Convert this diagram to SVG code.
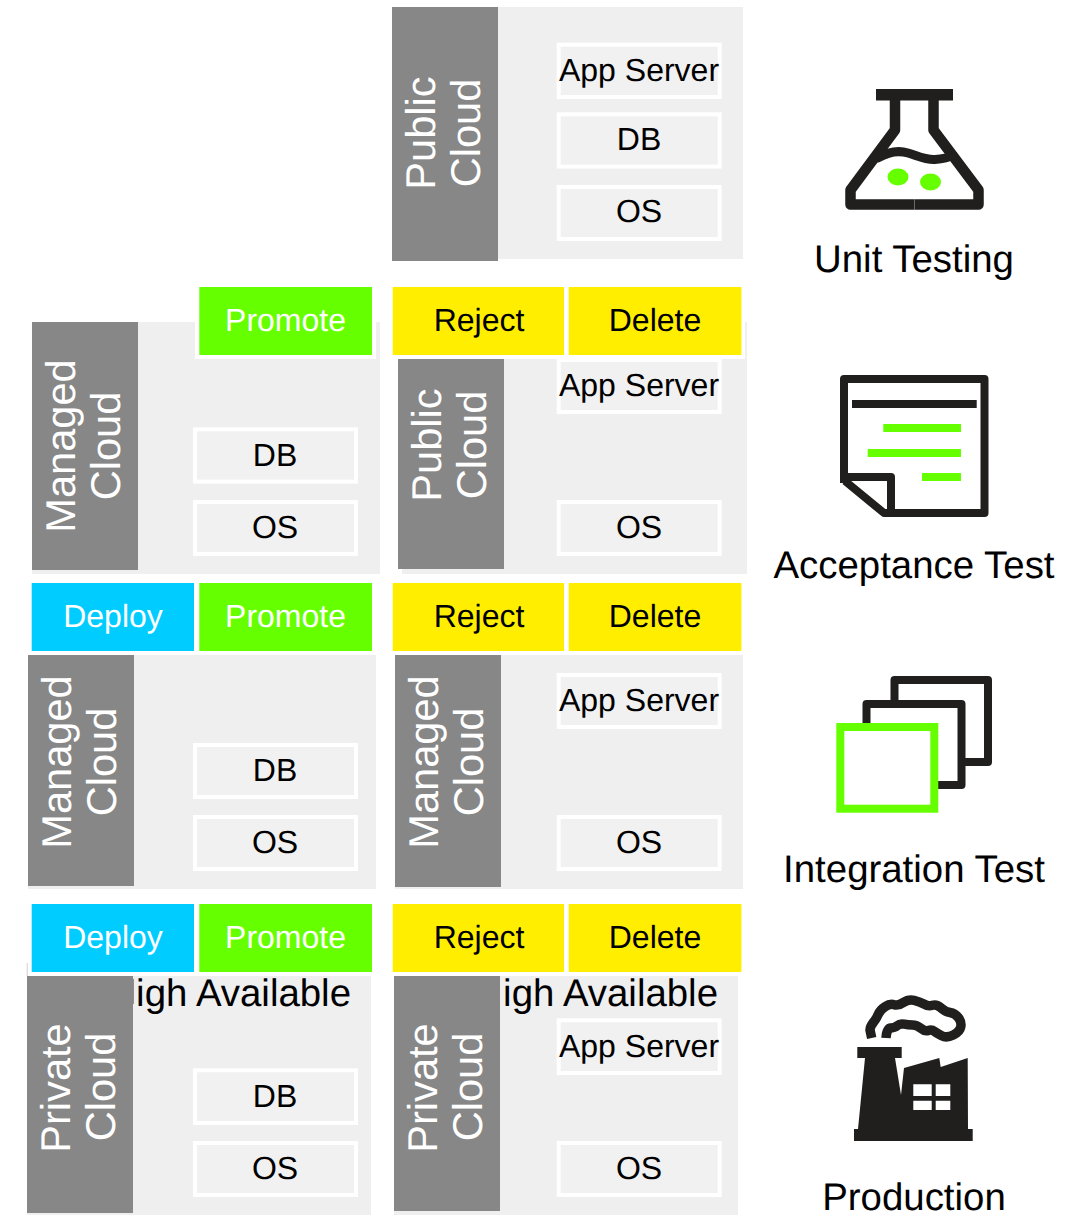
<svg xmlns="http://www.w3.org/2000/svg" width="1092" height="1215" viewBox="0 0 1092 1215">
<style>
text{font-family:"Liberation Sans",Arial,sans-serif;text-anchor:middle;text-rendering:geometricPrecision}
.p{fill:#efefef}.s{fill:#878787}.b{fill:#f1f1f1;stroke:#fff;stroke-width:4}
.t{font-size:32px;fill:#000}.v{font-size:41.6px;fill:#fff}
.m{font-size:32px}.w{fill:#fff}.k{fill:#000}.h{font-size:38.4px}
.y{fill:#ffee00}.g{fill:#66ff00}.c{fill:#00ccff}
.i{fill:none;stroke:#211f1e;stroke-width:8;stroke-linejoin:round}
.d{fill:#211f1e}
</style>
<g id="public-1"><rect class="p" x="392" y="7" width="351" height="252"/><rect class="s" x="392" y="7" width="106" height="254"/>
<text class="v" transform="translate(435.300 133) rotate(-90)">Public</text><text class="v" transform="translate(479.500 133) rotate(-90)">Cloud</text>
<rect class="b" x="558.700" y="44.700" width="161" height="52.300"/><text class="t" x="639" y="81">App Server</text>
<rect class="b" x="558.700" y="114.300" width="161" height="52.300"/><text class="t" x="639" y="150">DB</text>
<rect class="b" x="558.700" y="187" width="161" height="52"/><text class="t" x="639" y="222">OS</text></g>
<g id="managed-accept"><rect class="p" x="32" y="322" width="348" height="252"/><rect class="w" x="195" y="322" width="181" height="37"/><rect class="s" x="32" y="322" width="106" height="248"/>
<text class="v" transform="translate(75.300 446) rotate(-90)">Managed</text><text class="v" transform="translate(119.500 446) rotate(-90)">Cloud</text>
<rect class="b" x="195" y="429.300" width="161" height="52.300"/><text class="t" x="275" y="466">DB</text>
<rect class="b" x="195" y="502" width="161" height="52"/><text class="t" x="275" y="538">OS</text></g>
<g id="public-accept"><rect class="p" x="402" y="322" width="345" height="252"/><rect class="w" x="388" y="322" width="357" height="37"/><rect class="s" x="398" y="359" width="106" height="210"/>
<text class="v" transform="translate(441.300 445) rotate(-90)">Public</text><text class="v" transform="translate(485.500 445) rotate(-90)">Cloud</text>
<rect class="b" x="558.700" y="360" width="161" height="52"/><text class="t" x="639" y="396">App Server</text>
<rect class="b" x="558.700" y="502" width="161" height="52"/><text class="t" x="639" y="538">OS</text></g>
<g id="managed-int-left"><rect class="p" x="28" y="655" width="348" height="234"/><rect class="s" x="28" y="655" width="106" height="231"/>
<text class="v" transform="translate(71.300 762) rotate(-90)">Managed</text><text class="v" transform="translate(115.500 762) rotate(-90)">Cloud</text>
<rect class="b" x="195" y="745" width="161" height="52"/><text class="t" x="275" y="781">DB</text>
<rect class="b" x="195" y="817" width="161" height="52"/><text class="t" x="275" y="853">OS</text></g>
<g id="managed-int-right"><rect class="p" x="395" y="655" width="348" height="234"/><rect class="s" x="395" y="655" width="106" height="232"/>
<text class="v" transform="translate(438.300 762) rotate(-90)">Managed</text><text class="v" transform="translate(482.500 762) rotate(-90)">Cloud</text>
<rect class="b" x="558.700" y="675" width="161" height="52"/><text class="t" x="639" y="711">App Server</text>
<rect class="b" x="558.700" y="817" width="161" height="52"/><text class="t" x="639" y="853">OS</text></g>
<g id="private-left"><rect fill="#cfcfcf" x="26.700" y="963" width="1" height="13"/><rect class="p" x="27" y="976" width="344" height="239"/><rect class="s" x="27" y="976" width="106" height="237"/><rect fill="#777" x="133" y="979" width=".8" height="25"/>
<text class="h k" style="text-anchor:end" x="351" y="1006">igh Available</text>
<text class="v" transform="translate(70 1088) rotate(-90)">Private</text><text class="v" transform="translate(114.500 1087) rotate(-90)">Cloud</text>
<rect class="b" x="195" y="1070.300" width="161" height="52.700"/><text class="t" x="275" y="1107">DB</text>
<rect class="b" x="195" y="1143" width="161" height="52"/><text class="t" x="275" y="1179">OS</text></g>
<g id="private-right"><rect class="p" x="394" y="976" width="344" height="239"/><rect class="s" x="394" y="976" width="106" height="235"/>
<text class="h k" style="text-anchor:end" x="718" y="1006">igh Available</text>
<text class="v" transform="translate(437 1088) rotate(-90)">Private</text><text class="v" transform="translate(481.500 1087) rotate(-90)">Cloud</text>
<rect class="b" x="558.700" y="1020.300" width="161" height="52.700"/><text class="t" x="639" y="1057">App Server</text>
<rect class="b" x="558.700" y="1143" width="161" height="52"/><text class="t" x="639" y="1179">OS</text></g>
<g id="buttons-1"><rect class="g" x="199.300" y="287" width="172.700" height="68"/><text class="m w" x="285.500" y="331">Promote</text>
<rect class="y" x="392.700" y="287" width="171.300" height="68"/><text class="m k" x="479" y="331">Reject</text>
<rect class="y" x="568.700" y="287" width="172.700" height="68"/><text class="m k" x="655" y="331">Delete</text></g>
<g id="buttons-2"><rect class="c" x="31.700" y="583" width="162.300" height="68"/><text class="m w" x="113" y="627">Deploy</text>
<rect class="g" x="199.300" y="583" width="172.700" height="68"/><text class="m w" x="285.500" y="627">Promote</text>
<rect class="y" x="392.700" y="583" width="171.300" height="68"/><text class="m k" x="479" y="627">Reject</text>
<rect class="y" x="568.700" y="583" width="172.700" height="68"/><text class="m k" x="655" y="627">Delete</text></g>
<g id="buttons-3"><rect class="c" x="31.700" y="904" width="162.300" height="68"/><text class="m w" x="113" y="948">Deploy</text>
<rect class="g" x="199.300" y="904" width="172.700" height="68"/><text class="m w" x="285.500" y="948">Promote</text>
<rect class="y" x="392.700" y="904" width="171.300" height="68"/><text class="m k" x="479" y="948">Reject</text>
<rect class="y" x="568.700" y="904" width="172.700" height="68"/><text class="m k" x="655" y="948">Delete</text></g>
<g id="unit-testing"><rect class="d" x="876" y="89" width="77" height="11.500"/>
<path class="i" style="stroke-width:10.500" d="M895 96V130L850.500 190V204.500H978.500V190L933.500 130V96"/>
<path class="i" style="stroke-width:9;stroke-linecap:round" d="M878 158C888 152 898 150 908 153C918 156 925 160 935 159.500C942 159 948 158 953 155"/>
<ellipse class="g" cx="898" cy="177" rx="10.500" ry="8.500"/><ellipse class="g" cx="930.500" cy="182" rx="10.500" ry="8.500"/>
<rect fill="#8a8a8a" x="914.300" y="199" width=".7" height="11"/>
<text class="h k" x="914" y="272">Unit Testing</text></g>
<g id="acceptance-test"><path class="i" d="M844 483V379H984.500V513H884L845 481"/><path class="i" d="M844 477H891V513"/>
<rect class="d" x="852" y="400" width="124.700" height="8"/><rect class="g" x="883.300" y="424" width="77.700" height="8"/><rect class="g" x="867.700" y="449" width="93.300" height="8"/><rect class="g" x="922" y="473" width="39" height="8"/>
<text class="h k" x="914" y="578">Acceptance Test</text></g>
<g id="integration-test"><path class="i" d="M894.500 703V680H988V762H965"/><path class="i" d="M866.500 723V704H961.500V785H938"/>
<rect x="840.300" y="727" width="94" height="81.700" fill="none" stroke="#66ff00" stroke-width="8"/>
<text class="h k" x="914" y="882">Integration Test</text></g>
<g id="production"><path class="i" style="stroke-width:9.500" d="M871.700 1038L870 1030Q870 1026.700 873.300 1022.500Q876.700 1018.300 878.300 1014.200Q880 1010 885 1006.700Q890 1003.300 894.200 1004.700Q898.300 1006 903.300 1002.500Q908.300 999 914.200 1000.300Q920 1001.700 924.200 1004.200Q928.300 1006.700 932.500 1005.300Q936.700 1004 940.800 1007.800Q945 1011.700 950 1012.500Q955 1013.300 958.300 1017.500Q961.700 1021.700 960.800 1026.700Q960 1031.700 953.300 1035Q946.700 1038.300 941.700 1035.800Q936.700 1033.300 934.200 1031.300Q931.700 1029.300 928.300 1030.500Q925 1031.700 920.800 1028.300Q916.700 1025 912.500 1025Q908.300 1025 904.200 1024.200Q900 1023.300 897.500 1025.500Q895 1027.700 890.800 1028Q886.700 1028.300 886 1038"/>
<path class="d" d="M854 1141V1129H858L865 1058H857.300V1047H901.700V1058H895L901 1095L904 1068L939.300 1058L940.700 1067L967.700 1058L968 1129H972.700V1141Z"/>
<path fill="#fff" d="M913.300 1084.300h18.400v11.700h-18.400zM935.700 1084.300h14.600v11.700h-14.600zM913.300 1100.700h18.400v9.300h-18.400zM935.700 1100.700h14.600v9.300h-14.600z"/>
<text class="h k" x="914" y="1210">Production</text></g>
</svg>
